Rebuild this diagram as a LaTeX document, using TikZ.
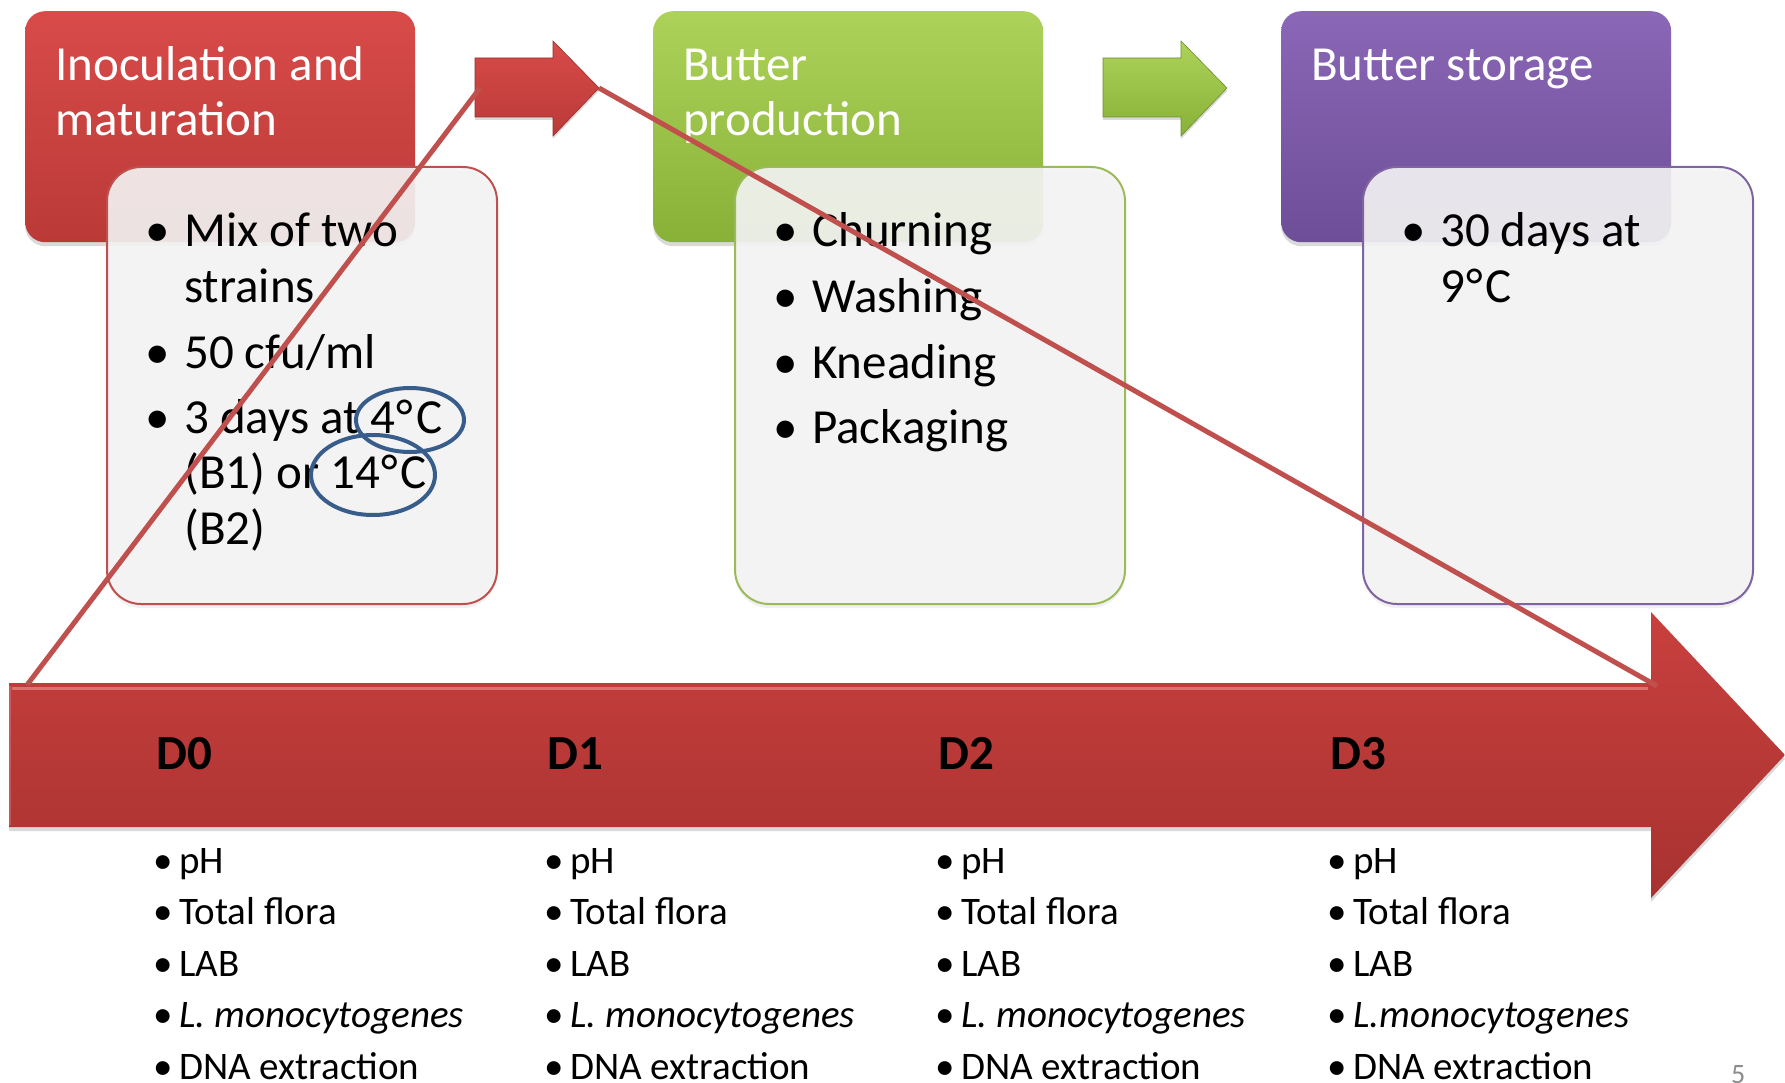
\documentclass[tikz,border=0pt]{standalone}
\usepackage{fontspec}
\setmainfont{Carlito}
\usetikzlibrary{shadows,shapes.geometric}
\definecolor{redtop}{HTML}{D84B49}
\definecolor{redbot}{HTML}{BA3A38}
\definecolor{greentop}{HTML}{ADD259}
\definecolor{greenbot}{HTML}{88B138}
\definecolor{purpletop}{HTML}{8B67B7}
\definecolor{purplebot}{HTML}{6D4E97}
\definecolor{redline}{HTML}{C0504D}
\definecolor{greenline}{HTML}{9BBB59}
\definecolor{purpleline}{HTML}{8064A2}
\definecolor{boxfill}{HTML}{F4F4F4}
\definecolor{bigtop}{HTML}{C8403E}
\definecolor{bigbot}{HTML}{A83230}
\definecolor{bighi}{HTML}{EC8A88}
\definecolor{ellblue}{HTML}{385D8A}
\definecolor{pagegray}{HTML}{8C8C8C}
\newcommand\bigfont{\fontsize{49}{55}\selectfont}
\newcommand\smallfont{\fontsize{39}{46}\selectfont}
\newcommand\degC{\kern1pt°\kern3pt C}
\begin{document}
\begin{tikzpicture}[x=1pt,y=-1pt,
  hdr/.style={rectangle, rounded corners=20pt, inner sep=0pt, draw=none,
    top color=#1top, bottom color=#1bot, anchor=north west,
    minimum width=390pt, minimum height=231pt,
    drop shadow={opacity=0.3, shadow xshift=0pt, shadow yshift=-4pt}},
  cbox/.style={rectangle, rounded corners=34pt, inner sep=0pt,
    fill=boxfill, fill opacity=0.9, draw=#1line, line width=2pt,
    anchor=north west, minimum width=390pt, minimum height=437pt,
    drop shadow={opacity=0.12, shadow xshift=0pt, shadow yshift=-4pt}},
  harrow/.style={top color=#1top, bottom color=#1bot, draw=#1bot!80!black, line width=0.6pt,
    drop shadow={opacity=0.3, shadow xshift=0pt, shadow yshift=-3pt}},
  htxt/.style={anchor=base west, inner sep=0pt, text=white, font=\bigfont},
  ctxt/.style={anchor=base west, inner sep=0pt, text=black, font=\bigfont},
  cbul/.style={anchor=base, inner sep=0pt, text=black, font=\bigfont},
  dlab/.style={anchor=base west, inner sep=0pt, text=black, font=\bigfont\bfseries},
  ltxt/.style={anchor=base west, inner sep=0pt, text=black, font=\smallfont},
  lbul/.style={anchor=base, inner sep=0pt, text=black, font=\smallfont},
  zoomline/.style={draw=redline, line width=5pt},
  ring/.style={ellipse, draw=ellblue, line width=4pt, inner sep=0pt}
]
\useasboundingbox (0,0) rectangle (1785,1083);

% header boxes
\node[hdr=red] (hRed) at (25,11) {};
\node[hdr=green] (hGreen) at (653,11) {};
\node[hdr=purple] (hPurple) at (1281,11) {};

% content boxes
\node[cbox=red] (cRed) at (106,166) {};
\node[cbox=green] (cGreen) at (734,166) {};
\node[cbox=purple] (cPurple) at (1362,166) {};

% small arrows
\path[harrow=red] (475,58) -- (553,58) -- (553,41) -- (599,88) -- (553,136) -- (553,117) -- (475,117) -- cycle;
\path[harrow=green] (1103,58) -- (1181,58) -- (1181,41) -- (1227,88) -- (1181,136) -- (1181,117) -- (1103,117) -- cycle;

% big arrow
\path[top color=bigtop, bottom color=bigbot, drop shadow={opacity=0.3, shadow xshift=0pt, shadow yshift=-4pt}]
  (9,683) -- (1651,683) -- (1651,612) -- (1785,755) -- (1651,898) -- (1651,827) -- (9,827) -- cycle;
\path[draw=bighi, line width=3pt, opacity=0.7] (12,688) -- (1648,688);
\path[draw=bigtop!70!white, line width=2pt, opacity=0.5] (10,686) -- (10,825);

% header texts
\node[htxt] (tRed1) at (55,81) {Inoculation and};
\node[htxt] (tRed2) at (55,136) {maturation};
\node[htxt] (tGreen1) at (683,81) {Butter};
\node[htxt] (tGreen2) at (683,136) {production};
\node[htxt] (tPurple1) at (1311,81) {Butter storage};

% red content
\node[cbul] (rb1) at (158,247) {•};
\node[ctxt] (rt1) at (184,247) {Mix of two};
\node[ctxt] (rt1b) at (184,302) {strains};
\node[cbul] (rb2) at (158,368) {•};
\node[ctxt] (rt2) at (184,368) {50 cfu/ml};
\node[cbul] (rb3) at (158,433) {•};
\node[ctxt] (rt3) at (184,433) {3 days at 4\degC};
\node[ctxt] (rt3b) at (184,488) {(B1) or 14\degC};
\node[ctxt] (rt3c) at (184,544) {(B2)};

% green content
\foreach \t [count=\i] in {Churning, Washing, Kneading, Packaging} {
  \node[cbul] (gb\i) at ({786},{247+65.5*(\i-1)}) {•};
  \node[ctxt] (gt\i) at ({812},{247+65.5*(\i-1)}) {\t};
}

% purple content
\node[cbul] (pb1) at (1414,247) {•};
\node[ctxt] (pt1) at (1440,247) {30 days at};
\node[ctxt] (pt1b) at (1440,302) {9\degC};

% timeline labels and lists
\foreach \dx [count=\i from 0] in {0,391,782,1174} {
  \node[dlab] (D\i) at ({156+\dx},769) {D\i};
  \foreach \j/\t in {1/pH, 2/Total flora, 3/LAB, 5/DNA extraction} {
    \node[lbul] (lb\i-\j) at ({163+\dx},{873+51.5*(\j-1)}) {•};
    \node[ltxt] (lt\i-\j) at ({179+\dx},{873+51.5*(\j-1)}) {\t};
  }
  \node[lbul] (lb\i-4) at ({163+\dx},{873+51.5*3}) {•};
}
\node[ltxt] (lt0-4) at (179,1027.5) {\itshape L. monocytogenes};
\node[ltxt] (lt1-4) at (570,1027.5) {\itshape L. monocytogenes};
\node[ltxt] (lt2-4) at (961,1027.5) {\itshape L. monocytogenes};
\node[ltxt] (lt3-4) at (1353,1027.5) {\itshape L.monocytogenes};

% page number
\node[anchor=base west, inner sep=0pt, text=pagegray, font=\fontsize{28}{32}\selectfont] (pg) at (1731,1083) {5};

% circles
\node[ring, minimum width=108pt, minimum height=64pt] (e1) at (410,420) {};
\node[ring, minimum width=124pt, minimum height=80pt] (e2) at (373,475) {};

% zoom lines
\coordinate (s1) at (480,88);
\coordinate (s2) at (599,88);
\coordinate (b1) at (27,685);
\coordinate (b2) at (1657,686);
\draw[zoomline] (s1) -- (b1);
\draw[zoomline] (s2) -- (b2);
\end{tikzpicture}
\end{document}
